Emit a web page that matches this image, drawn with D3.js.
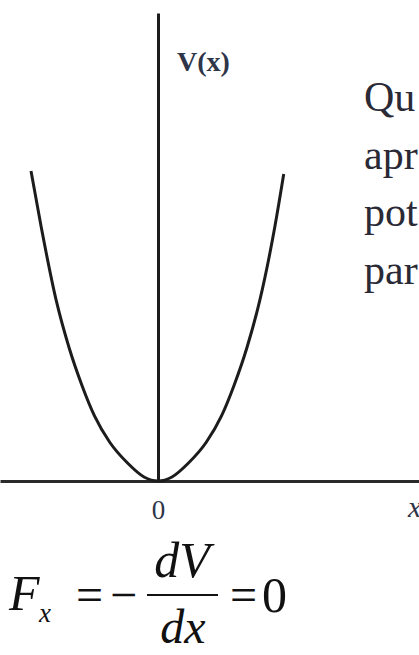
<!DOCTYPE html>
<html>
<head>
<meta charset="utf-8">
<script src="https://cdn.jsdelivr.net/npm/d3@7"></script>
<style>
  html, body { margin: 0; padding: 0; background: #fff; overflow: hidden; }
  svg { display: block; }
</style>
</head>
<body>
<svg id="chart" width="419" height="655"></svg>
<script>
// Potential energy curve V(x) around a stable equilibrium at x = 0
const xValues = [-1.00, -0.92, -0.80, -0.70, -0.60, -0.50, -0.38, -0.24, -0.11, 0,
                 0.11, 0.24, 0.38, 0.50, 0.60, 0.70, 0.80, 0.92, 0.99];
const vValues = [1.00, 0.82, 0.58, 0.43, 0.31, 0.21, 0.125, 0.058, 0.013, 0,
                 0.013, 0.058, 0.125, 0.21, 0.31, 0.43, 0.58, 0.82, 0.99];
const xTicks = [0];
const xTickLabels = ["0"];
const yAxisTitle = "V(x)";
const xAxisTitle = "x";
const sideText = ["Qu", "apr", "pot", "par"];

const W = 419, H = 655;
const svg = d3.select("#chart");

const x = d3.scaleLinear().domain([-1, 1]).range([31, 285]);
const y = d3.scaleLinear().domain([0, 1]).range([481, 171]);
const yTop = 1.505;

const ink = "#1c1c1c";
const labelInk = "#2f3548";
const serif = "'Liberation Serif', 'Times New Roman', serif";

// horizontal axis across the whole width, one tick at the origin
const xAxisScale = x.copy().domain([x.invert(0), x.invert(W)]).range([0, W]);
const gx = svg.append("g")
  .attr("transform", `translate(0,${y(0)})`)
  .call(d3.axisBottom(xAxisScale).tickValues(xTicks)
    .tickFormat((d, i) => xTickLabels[i]).tickSize(0).tickSizeOuter(0).tickPadding(19));
gx.select(".domain").attr("stroke", "#2a2a2a").attr("stroke-width", 3);
gx.selectAll(".tick text")
  .attr("font-family", serif).attr("font-size", 27)
  .attr("fill", labelInk);

// vertical axis
const gy = svg.append("g")
  .attr("transform", `translate(${x(0)},0)`)
  .call(d3.axisLeft(y.copy().domain([0, yTop]).range([481, 13])).tickValues([]).tickSizeOuter(0));
gy.select(".domain").attr("stroke", ink).attr("stroke-width", 3);

// axis titles
svg.append("text")
  .attr("x", 177).attr("y", 71)
  .attr("font-family", serif).attr("font-size", 28).attr("font-weight", "bold")
  .attr("fill", labelInk)
  .text(yAxisTitle);

svg.append("text")
  .attr("x", 408).attr("y", 517)
  .attr("font-family", serif).attr("font-size", 30).attr("font-style", "italic")
  .attr("fill", labelInk)
  .text(xAxisTitle);

// the curve
const pts = xValues.map((d, i) => [d, vValues[i]]);
svg.append("path")
  .datum(pts)
  .attr("fill", "none")
  .attr("stroke", ink)
  .attr("stroke-width", 3)
  .attr("d", d3.line().x(d => x(d[0])).y(d => y(d[1])).curve(d3.curveMonotoneX));

// running text at the right edge
svg.append("g").selectAll("text")
  .data(sideText)
  .join("text")
  .attr("x", 364)
  .attr("y", (d, i) => 111 + i * 57.5)
  .attr("font-family", serif).attr("font-size", 42)
  .attr("fill", "#2a2a36")
  .text(d => d);

// force relation F_x = -dV/dx = 0
const eq = svg.append("g").attr("font-family", serif).attr("fill", "#111");
eq.append("text").attr("x", 9).attr("y", 610).attr("font-size", 50).attr("font-style", "italic").text("F");
eq.append("text").attr("x", 39).attr("y", 622).attr("font-size", 27).attr("font-style", "italic").text("x");
eq.append("text").attr("x", 76).attr("y", 611).attr("font-size", 48).text("=");
eq.append("text").attr("x", 110).attr("y", 611).attr("font-size", 48).text("\u2212");
eq.append("line").attr("x1", 147).attr("x2", 218).attr("y1", 595).attr("y2", 595)
  .attr("stroke", "#111").attr("stroke-width", 2);
eq.append("text").attr("x", 182).attr("y", 577).attr("text-anchor", "middle")
  .attr("font-size", 50).attr("font-style", "italic").text("dV");
eq.append("text").attr("x", 183).attr("y", 643).attr("text-anchor", "middle")
  .attr("font-size", 48).attr("font-style", "italic").text("dx");
eq.append("text").attr("x", 230).attr("y", 611).attr("font-size", 48).text("=");
eq.append("text").attr("x", 262).attr("y", 612).attr("font-size", 50).text("0");
</script>
</body>
</html>
